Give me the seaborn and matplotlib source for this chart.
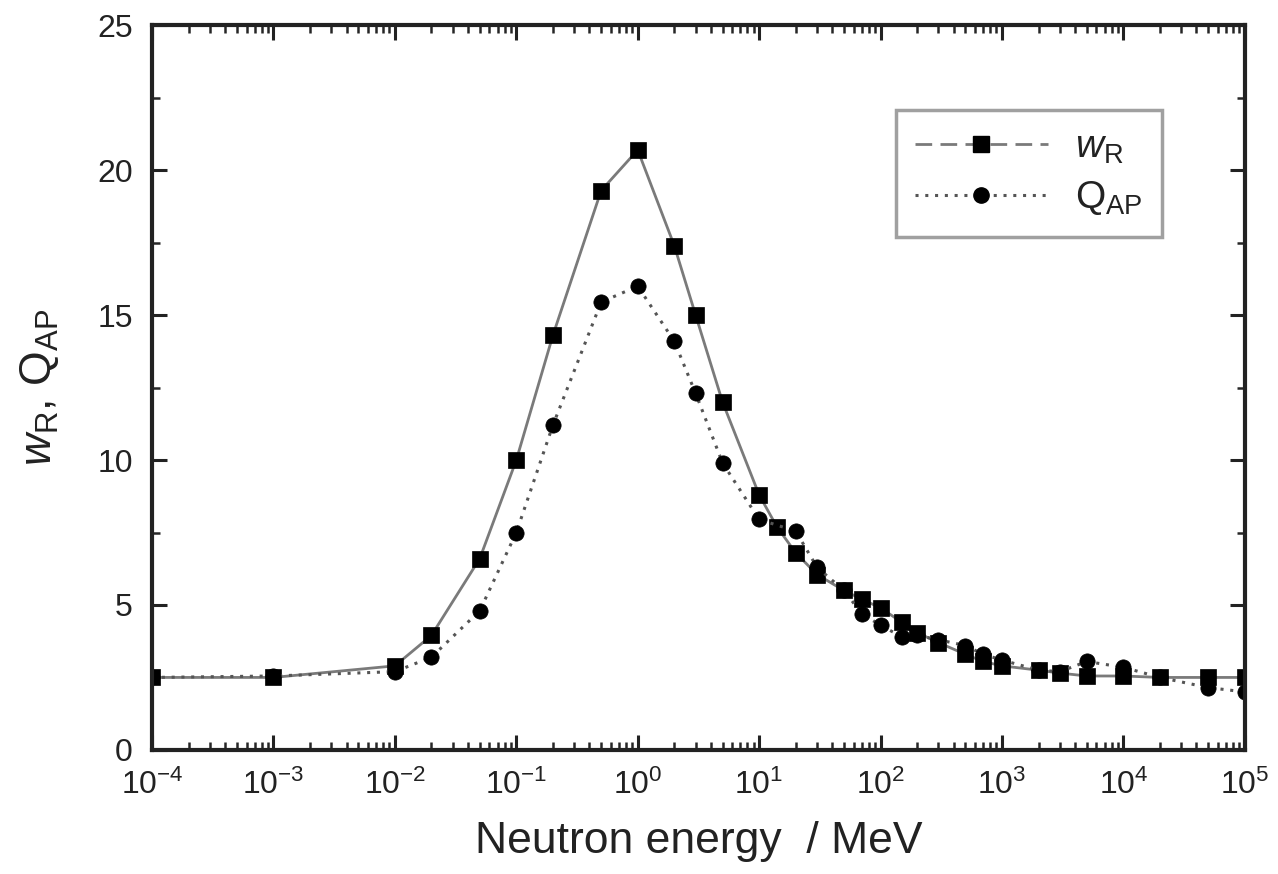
import numpy as np
import pandas as pd
import matplotlib
matplotlib.use("Agg")
import matplotlib.pyplot as plt
import matplotlib.ticker as mticker
from matplotlib.lines import Line2D
import seaborn as sns

# ---- data ----
energy_w = [1e-4, 1e-3, 1e-2, 2e-2, 5e-2, 0.1, 0.2, 0.5, 1, 2, 3, 5, 10, 14, 20, 30, 50,
            70, 100, 150, 200, 300, 500, 700, 1000, 2000, 3000, 5000, 1e4, 2e4, 5e4, 1e5]
w_R = [2.5, 2.5, 2.9, 3.95, 6.6, 10.0, 14.3, 19.3, 20.7, 17.4, 15.0, 12.0, 8.8, 7.7, 6.8,
       6.05, 5.5, 5.2, 4.9, 4.4, 4.05, 3.7, 3.3, 3.05, 2.9, 2.75, 2.65, 2.55, 2.55, 2.5, 2.5, 2.5]

energy_q = [1e-4, 1e-3, 1e-2, 2e-2, 5e-2, 0.1, 0.2, 0.5, 1, 2, 3, 5, 10, 20, 30, 50,
            70, 100, 150, 200, 300, 500, 700, 1000, 2000, 3000, 5000, 1e4, 2e4, 5e4, 1e5]
Q_AP = [2.5, 2.55, 2.7, 3.2, 4.8, 7.5, 11.2, 15.45, 16.0, 14.1, 12.3, 9.9, 7.95, 7.55,
        6.3, 5.5, 4.7, 4.3, 3.9, 3.95, 3.8, 3.6, 3.3, 3.1, 2.75, 2.7, 3.05, 2.85, 2.5, 2.15, 2.0]

xticks = [1e-4, 1e-3, 1e-2, 1e-1, 1e0, 1e1, 1e2, 1e3, 1e4, 1e5]
yticks = [0, 5, 10, 15, 20, 25]

# ---- style ----
sns.set_style("ticks")
plt.rcParams["font.family"] = ["Liberation Sans", "DejaVu Sans"]
plt.rcParams["mathtext.fontset"] = "custom"
plt.rcParams["mathtext.rm"] = "Liberation Sans"
plt.rcParams["mathtext.it"] = "Liberation Sans:italic"
plt.rcParams["mathtext.bf"] = "Liberation Sans:bold"
plt.rcParams["axes.unicode_minus"] = False

fig = plt.figure(figsize=(12.78, 8.74), dpi=100)
ax = fig.add_axes([0.119, 0.142, 0.855, 0.829])

df_w = pd.DataFrame({"E": energy_w, "v": w_R})
df_q = pd.DataFrame({"E": energy_q, "v": Q_AP})

sns.lineplot(data=df_w, x="E", y="v", ax=ax, color="#7a7a7a", linewidth=2.0,
             linestyle="-", marker="s", markersize=11, markerfacecolor="black",
             markeredgecolor="black", markeredgewidth=0.5, errorbar=None)
sns.lineplot(data=df_q, x="E", y="v", ax=ax, color="#555555", linewidth=2.2,
             linestyle=(0, (1, 2.2)), marker="o", markersize=11, markerfacecolor="black",
             markeredgecolor="black", markeredgewidth=0.5, errorbar=None)

ax.set_xscale("log")
ax.set_xlim(1e-4, 1e5)
ax.set_ylim(0, 25)
ax.set_xticks(xticks)
ax.xaxis.set_major_formatter(mticker.LogFormatterMathtext())
ax.xaxis.set_minor_locator(mticker.LogLocator(base=10, subs=np.arange(2, 10), numticks=100))
ax.xaxis.set_minor_formatter(mticker.NullFormatter())
ax.set_yticks(yticks)
ax.yaxis.set_minor_locator(mticker.MultipleLocator(2.5))

ax.tick_params(which="major", direction="in", length=11, width=2.2, top=True, right=True,
               labelsize=23, colors="#222222", pad=14)
ax.tick_params(which="minor", direction="in", length=6, width=1.8, top=True, right=True)
for s in ax.spines.values():
    s.set_linewidth(3.0)
    s.set_color("#222222")

ax.set_xlabel("Neutron energy  / MeV", fontsize=32, color="#222222", labelpad=15)
ax.set_ylabel(r"$w_{\mathrm{R}}$, $\mathrm{Q}_{\mathrm{AP}}$", fontsize=32,
              color="#222222", labelpad=26)

handles = [
    Line2D([], [], color="#7a7a7a", linewidth=2.0, linestyle=(0, (6, 3)), marker="s",
           markersize=11, markerfacecolor="black", markeredgecolor="black"),
    Line2D([], [], color="#555555", linewidth=2.2, linestyle=(0, (1, 2.2)), marker="o",
           markersize=11, markerfacecolor="black", markeredgecolor="black"),
]
leg = ax.legend(handles, [r"$w_{\mathrm{R}}$", r"$\mathrm{Q}_{\mathrm{AP}}$"], loc="upper right",
                bbox_to_anchor=(0.924, 0.883), borderaxespad=0, fontsize=28, frameon=True,
                fancybox=False, handlelength=3.4, handletextpad=0.7, borderpad=0.5,
                labelspacing=0.35)
leg.get_frame().set_edgecolor("#888888")
leg.get_frame().set_linewidth(2.5)
for t in leg.get_texts():
    t.set_color("#222222")

fig.savefig("out.png", dpi=100)
